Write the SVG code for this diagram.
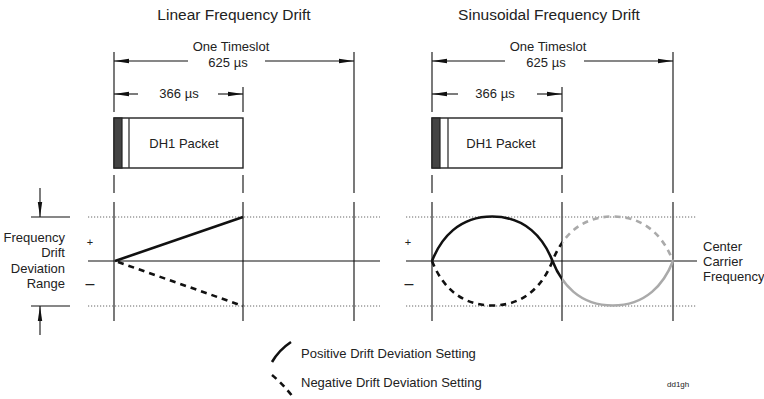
<svg xmlns="http://www.w3.org/2000/svg" width="764" height="399" viewBox="0 0 764 399">
<style>
text{font-family:"Liberation Sans",Arial,sans-serif;fill:#222;}
.t{font-size:15.5px;text-anchor:middle;}
.l{font-size:13px;}
.m{text-anchor:middle;}
.r{text-anchor:end;}
.s{font-size:8px;}
.pm{font-size:11px;text-anchor:middle;}
.mi{font-size:16px;text-anchor:middle;}
.v{stroke:#333;stroke-width:1.3;fill:none;}
.ax{stroke:#111;stroke-width:1.2;fill:none;}
.dot{stroke:#666;stroke-width:1;stroke-dasharray:1.2,1.8;fill:none;}
.dim{stroke:#111;stroke-width:1.1;fill:none;}
.pos{stroke:#111;stroke-width:2.6;fill:none;}
.neg{stroke:#111;stroke-width:2.6;fill:none;stroke-dasharray:6,5;}
.g{stroke:#aaa;}
.box{fill:#fff;stroke:#222;stroke-width:1.4;}
</style>
<defs>
<marker id="ah" markerUnits="userSpaceOnUse" markerWidth="16" markerHeight="6" refX="15" refY="3" orient="auto-start-reverse">
<path d="M0,0.8 L15,3 L0,5.2 z" fill="#111"/>
</marker>
<clipPath id="cl"><rect x="0" y="180" width="562" height="150"/></clipPath>
<clipPath id="cr"><rect x="562" y="180" width="200" height="150"/></clipPath>
<path id="sinP" d="M432,261 C441,238 459,216.5 492.25,216.5 C525.5,216.5 543.5,238 552.5,261 C561.5,284 579.5,305.5 612.75,305.5 C646,305.5 664,284 673,261"/>
<path id="sinN" d="M432,261 C441,284 459,305.5 492.25,305.5 C525.5,305.5 543.5,284 552.5,261 C561.5,238 579.5,216.5 612.75,216.5 C646,216.5 664,238 673,261"/>
</defs>

<text class="t" x="234" y="20">Linear Frequency Drift</text>
<text class="t" x="549" y="20">Sinusoidal Frequency Drift</text>

<g id="left-timing">
<path class="v" d="M114,52 V112 M114,175 V193 M243,87 V112 M243,175 V193 M354,52 V193 M114,202 V321 M243,202 V321 M354,202 V321"/>
<path class="dim" d="M188,61 H114" marker-end="url(#ah)"/>
<path class="dim" d="M265,61 H354" marker-end="url(#ah)"/>
<path class="dim" d="M138,94 H114" marker-end="url(#ah)"/>
<path class="dim" d="M218,94 H243" marker-end="url(#ah)"/>
<text class="l m" x="231" y="51">One Timeslot</text>
<text class="l m" x="228" y="67">625 µs</text>
<text class="l m" x="179" y="98">366 µs</text>
</g>
<g id="left-packet">
<rect class="box" x="114" y="118" width="129" height="50"/>
<rect x="114" y="118" width="8" height="50" fill="#444" stroke="#222" stroke-width="1.2"/>
<path class="v" d="M129,118 V168"/>
<text class="l m" x="184" y="148">DH1 Packet</text>
</g>

<g id="right-timing">
<path class="v" d="M432,52 V112 M432,175 V193 M562,87 V112 M562,175 V193 M673,52 V193 M432,202 V321 M562,202 V321 M673,202 V321"/>
<path class="dim" d="M505,61 H432" marker-end="url(#ah)"/>
<path class="dim" d="M584,61 H673" marker-end="url(#ah)"/>
<path class="dim" d="M458,94 H432" marker-end="url(#ah)"/>
<path class="dim" d="M537,94 H562" marker-end="url(#ah)"/>
<text class="l m" x="548" y="51">One Timeslot</text>
<text class="l m" x="546" y="67">625 µs</text>
<text class="l m" x="495" y="98">366 µs</text>
</g>
<g id="right-packet">
<rect class="box" x="432" y="118" width="130" height="50"/>
<rect x="432" y="118" width="8" height="50" fill="#444" stroke="#222" stroke-width="1.2"/>
<path class="v" d="M448,118 V168"/>
<text class="l m" x="501" y="148">DH1 Packet</text>
</g>

<g id="range-label">
<path class="ax" d="M31,217 H70 M31,306 H70"/>
<path class="dim" d="M40,188 V217" marker-end="url(#ah)"/>
<path class="dim" d="M40,335 V306" marker-end="url(#ah)"/>
<text class="l r" x="65" y="242">Frequency</text>
<text class="l r" x="65" y="257">Drift</text>
<text class="l r" x="65" y="273">Deviation</text>
<text class="l r" x="65" y="288">Range</text>
</g>

<g id="left-graph">
<path class="dot" d="M88,217 H380 M88,306 H380"/>
<path class="ax" d="M88,261 H380"/>
<text class="pm" x="90" y="246">+</text>
<text class="mi" x="90" y="289">–</text>
</g>

<g id="right-graph">
<path class="dot" d="M406,217 H697 M406,306 H697"/>
<path class="ax" d="M406,261 H697"/>
<text class="pm" x="408" y="246">+</text>
<text class="mi" x="409" y="289">–</text>
<text class="l" x="703" y="251">Center</text>
<text class="l" x="703" y="266">Carrier</text>
<text class="l" x="703" y="281">Frequency</text>
</g>

<g id="connectors">
<path class="pos" d="M115,261 L243,217"/>
<path class="neg" d="M118,262 L243,306"/>
<use href="#sinP" class="pos" clip-path="url(#cl)"/>
<use href="#sinP" class="pos g" clip-path="url(#cr)"/>
<use href="#sinN" class="neg" clip-path="url(#cl)"/>
<use href="#sinN" class="neg g" clip-path="url(#cr)"/>
</g>

<g id="legend">
<path class="pos" d="M272,362 Q279,350 291,342"/>
<path class="neg" d="M272,375 Q283,384 293,397"/>
<text class="l" x="301" y="358">Positive Drift Deviation Setting</text>
<text class="l" x="301" y="387">Negative Drift Deviation Setting</text>
<text class="s" x="667" y="387">dd1gh</text>
</g>
</svg>
